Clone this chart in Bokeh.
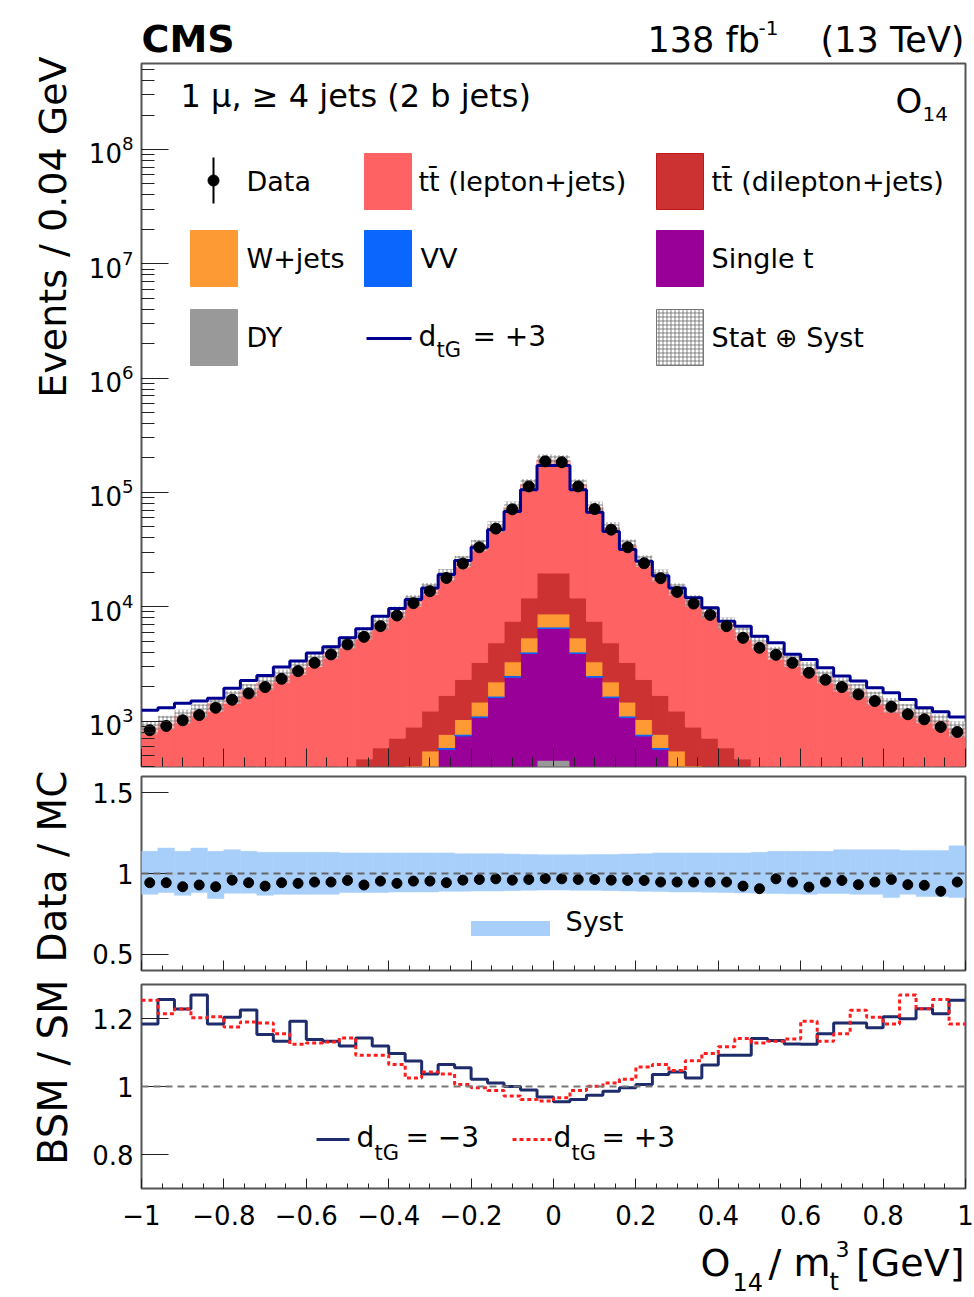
import numpy as np
from math import pi, log10
from bokeh.plotting import figure
from bokeh.layouts import column, row
from bokeh.models import (Range1d, Label, FixedTicker, LogTicker,
                          CustomJSTickFormatter, Span)
from bokeh.embed import file_html
from bokeh.resources import INLINE

# ---------------- binning and values ----------------
bin_edges = np.linspace(-1.0, 1.0, 51)   # 50 bins of 0.04

data_events = [830, 905, 1015, 1128, 1307, 1535, 1745, 1983, 2341, 2734,
               3229, 3826, 4677, 5448, 6757, 8377, 10730, 13660, 17850, 23850,
               33100, 48200, 71100, 112800, 186800,
               183600, 112800, 71500, 47200, 33100, 24000, 17750, 13460, 10660, 8480,
               6757, 5340, 4370, 3795, 3229, 2644, 2296, 1983, 1710, 1496,
               1334, 1146, 1035, 887, 802]

data_over_mc = [0.943, 0.943, 0.918, 0.929, 0.918, 0.959, 0.943, 0.922, 0.943, 0.939,
                0.947, 0.947, 0.957, 0.929, 0.953, 0.939, 0.953, 0.953, 0.943, 0.959,
                0.963, 0.967, 0.959, 0.963, 0.969,
                0.967, 0.963, 0.963, 0.959, 0.957, 0.957, 0.947, 0.947, 0.947, 0.947,
                0.947, 0.922, 0.906, 0.967, 0.947, 0.916, 0.947, 0.957, 0.931, 0.947,
                0.963, 0.931, 0.927, 0.890, 0.947]

syst_up = [1.137, 1.157, 1.137, 1.157, 1.137, 1.147, 1.137, 1.131, 1.131, 1.131,
           1.131, 1.131, 1.127, 1.127, 1.127, 1.127, 1.127, 1.127, 1.127, 1.122,
           1.122, 1.122, 1.120, 1.118, 1.116,
           1.116, 1.116, 1.118, 1.118, 1.120, 1.122, 1.127, 1.127, 1.127, 1.127,
           1.127, 1.127, 1.131, 1.137, 1.137, 1.137, 1.137, 1.147, 1.147, 1.147,
           1.147, 1.143, 1.143, 1.143, 1.171]

syst_down = [0.871, 0.882, 0.865, 0.882, 0.845, 0.878, 0.878, 0.865, 0.871, 0.871,
             0.871, 0.871, 0.882, 0.882, 0.882, 0.886, 0.886, 0.886, 0.890, 0.890,
             0.892, 0.892, 0.894, 0.896, 0.898,
             0.898, 0.896, 0.896, 0.894, 0.892, 0.890, 0.888, 0.886, 0.886, 0.884,
             0.882, 0.880, 0.878, 0.876, 0.874, 0.871, 0.876, 0.876, 0.871, 0.871,
             0.851, 0.871, 0.857, 0.857, 0.851]

dy_events = [1, 1, 1, 1, 1, 1, 2, 2, 2, 2, 3, 3, 4, 5, 7, 10, 14, 20, 30, 45,
             70, 110, 170, 280, 454,
             454, 280, 170, 110, 70, 45, 30, 20, 14, 10, 7, 5, 4, 3, 3,
             2, 2, 2, 2, 1, 1, 1, 1, 1, 1]

single_top_events = [2, 2, 3, 3, 4, 5, 7, 9, 12, 16, 22, 32, 46, 70, 103, 160, 236, 360,
                     536, 695, 1000, 1490, 2250, 3620, 6000,
                     6000, 3620, 2250, 1490, 1000, 695, 536, 360, 236, 160, 103, 70, 46,
                     32, 22, 16, 12, 9, 7, 5, 4, 3, 3, 2, 2]

vv_events = [1, 1, 1, 1, 1, 1, 1, 1, 1, 1, 2, 2, 2, 3, 3, 4, 5, 7, 9, 11,
             15, 20, 28, 40, 60,
             60, 40, 28, 20, 15, 11, 9, 7, 5, 4, 3, 3, 2, 2, 2,
             1, 1, 1, 1, 1, 1, 1, 1, 1, 1]

wjets_events = [11, 12, 13, 15, 17, 19, 22, 26, 30, 36, 42, 50, 60, 75, 95, 120, 150,
                160, 190, 280, 380, 580, 850, 1400, 2130,
                2130, 1400, 850, 580, 380, 280, 190, 160, 150, 120, 95, 75, 60, 50,
                42, 36, 30, 26, 22, 19, 17, 15, 13, 12, 11]

tt_dilepton_events = [55, 60, 65, 72, 80, 90, 100, 115, 130, 150, 175, 210, 255, 313,
                      375, 414, 480, 675, 910, 1275, 1785, 2630, 4170, 6590, 11070,
                      11070, 6590, 4170, 2630, 1785, 1275, 910, 675, 480, 414, 375,
                      313, 255, 210, 175, 150, 130, 115, 100, 90, 80, 72, 65, 60, 55]

bsm_plus3_events = [1240, 1307, 1427, 1496, 1579, 1930, 2265, 2504, 2963, 3343,
                    3926, 4457, 5340, 6400, 8260, 9640, 11550, 14600, 19100, 25300,
                    33100, 47200, 68200, 105700, 172200,
                    172200, 105700, 66900, 45600, 31650, 24950, 18700, 14600, 11950, 9770,
                    7465, 6760, 5520, 4830, 3830, 3460, 2925, 2472, 2234, 1954,
                    1766, 1546, 1307, 1206, 1083]

bsm_sm_minus3 = [1.184, 1.256, 1.228, 1.269, 1.184, 1.204, 1.225, 1.153, 1.133, 1.192,
                 1.138, 1.133, 1.119, 1.143, 1.119, 1.097, 1.075, 1.037, 1.065, 1.055,
                 1.021, 1.010, 1.000, 0.990, 0.969,
                 0.955, 0.962, 0.974, 0.986, 0.996, 1.006, 1.035, 1.043, 1.025, 1.063,
                 1.092, 1.092, 1.141, 1.135, 1.125, 1.124, 1.155, 1.187, 1.187, 1.173,
                 1.205, 1.199, 1.229, 1.214, 1.254]

bsm_sm_plus3 = [1.254, 1.214, 1.228, 1.202, 1.205, 1.175, 1.190, 1.187, 1.155, 1.124,
                1.128, 1.131, 1.143, 1.092, 1.092, 1.065, 1.025, 1.043, 1.037, 1.006,
                0.996, 0.988, 0.972, 0.962, 0.957,
                0.967, 0.988, 1.001, 1.010, 1.021, 1.057, 1.065, 1.047, 1.076, 1.097,
                1.117, 1.141, 1.128, 1.133, 1.140, 1.192, 1.133, 1.155, 1.224, 1.204,
                1.184, 1.269, 1.229, 1.256, 1.184]

x_major_ticks = [-1, -0.8, -0.6, -0.4, -0.2, 0, 0.2, 0.4, 0.6, 0.8, 1]
ratio_ticks = [0.5, 1, 1.5]
bsm_ticks = [0.8, 1, 1.2]

# ---------------- derived quantities ----------------
left, right = bin_edges[:-1], bin_edges[1:]
centers = 0.5 * (left + right)
data = np.array(data_events, float)
ratio = np.array(data_over_mc)
mc_total = data / ratio
dy = np.array(dy_events, float)
st = np.array(single_top_events, float)
vv = np.array(vv_events, float)
wj = np.array(wjets_events, float)
dil = np.array(tt_dilepton_events, float)
tt_lj = mc_total - (dy + st + vv + wj + dil)

c_dy = dy
c_st = c_dy + st
c_vv = c_st + vv
c_wj = c_vv + wj
c_dil = c_wj + dil
c_lj = c_dil + tt_lj


def step_xy(vals):
    xs = np.repeat(bin_edges, 2)[1:-1]
    ys = np.repeat(np.asarray(vals, float), 2)
    return xs, ys


# ---------------- page geometry (canvas pixels) ----------------
W, H = 974, 1297
LEFT_W = 80            # strip holding the rotated axis titles
FL, FR = 141, 965      # frame edges of every panel
HEAD_H = 62
P1_TOP, P1_FRAME = 63, 703         # main panel frame: 63..766
P2_TOP, P2_FRAME = 776, 194        # ratio frame: 776..970
P3_TOP, P3_FRAME = 984, 204        # BSM/SM frame: 984..1188
ROW1 = HEAD_H
ROW2 = 771
ROW3 = 977
ROW4 = 1235
P1_H, P2_H, P3_H = ROW2 - ROW1, ROW3 - ROW2, ROW4 - ROW3
FOOT_H = H - ROW4

Y_LO = 400.0
L_LO = log10(Y_LO)
L_HI = L_LO + P1_FRAME / 114.31     # keeps ~114 px per decade
Y_HI = 10 ** L_HI


def px(xp):
    return -1.0 + (xp - FL) / (FR - FL) * 2.0


def top_y(yp):
    return 10 ** (L_HI - (yp - P1_TOP) / P1_FRAME * (L_HI - L_LO))


def mid_y(yp):
    return 1.6 - (yp - P2_TOP) / P2_FRAME * 1.2


def bot_y(yp):
    return 1.3 - (yp - P3_TOP) / P3_FRAME * 0.6


FONT = "DejaVu Sans"
TICK_PX = "26px"

C_LJ = "#fe6262"
C_DIL = "#cc3232"
C_W = "#fd9a33"
C_VV = "#0a66fd"
C_ST = "#980098"
C_DY = "#999999"
C_BSM = "#000090"
C_SYST = "#a8cffa"
C_NAVY = "#1e2c6c"
C_REDDOT = "#ff1c1c"


def add_label(fig, x, y, text, size, align="left", angle=0.0, bold=False):
    """Text centred vertically on y (page-pixel or data coordinates)."""
    fig.add_layout(Label(x=x, y=y, text=text, text_font=FONT,
                         text_font_size=f"{size}px", text_align=align,
                         text_baseline="middle", angle=angle,
                         text_font_style="bold" if bold else "normal",
                         text_color="black"))


def mid(baseline, size):
    """Page y of the text middle for a given baseline and font size."""
    return baseline - 0.35 * size


def text_canvas(width, x0, x1, y0, h, border_left=0, border_right=0):
    """Blank figure whose frame spans page x0..x1 and page y0..y0+h."""
    f = figure(width=width, height=h, x_range=Range1d(x0, x1),
               y_range=Range1d(y0 + h, y0), output_backend="svg",
               toolbar_location=None, title=None, x_axis_location=None,
               y_axis_location=None, min_border=0,
               min_border_left=border_left, min_border_right=border_right)
    f.outline_line_color = None
    f.grid.visible = False
    f.background_fill_color = "white"
    f.border_fill_color = "white"
    return f


x_minor = [round(-1 + 0.05 * k, 2) for k in range(41) if k % 4]
blank = CustomJSTickFormatter(code="return '';")


def style_common(fig):
    fig.outline_line_color = "#555555"
    fig.outline_line_width = 2
    fig.background_fill_color = "white"
    fig.border_fill_color = "white"
    fig.xgrid.visible = False
    fig.ygrid.visible = False
    for ax in fig.axis:
        ax.axis_line_color = None
        ax.major_tick_out = 0
        ax.minor_tick_out = 0
        ax.major_tick_line_color = "#222222"
        ax.minor_tick_line_color = "#222222"
        ax.major_label_text_font = FONT
        ax.major_label_text_font_size = TICK_PX
        ax.major_label_text_color = "black"


def make_fig(row_top, row_h, frame_top, frame_h, y_range, log=False):
    top = frame_top - row_top
    kw = dict(width=W - LEFT_W, height=row_h, x_range=Range1d(-1, 1), y_range=y_range,
              output_backend="svg", toolbar_location=None, title=None,
              min_border_left=FL - LEFT_W, min_border_right=W - FR,
              min_border_top=top, min_border_bottom=row_h - top - frame_h)
    if log:
        kw["y_axis_type"] = "log"
    return figure(**kw)


# ================= header =================
head = text_canvas(W - LEFT_W, FL, FR, 0, HEAD_H, FL - LEFT_W, W - FR)
add_label(head, 141, mid(52, 38), "CMS", 38, bold=True)
add_label(head, 647, mid(52, 35), "138 fb", 35)
add_label(head, 758, mid(34, 20), "-1", 20)
add_label(head, 964, mid(52, 35), "(13 TeV)", 35, align="right")

# ================= main distribution =================
p1 = make_fig(ROW1, P1_H, P1_TOP, P1_FRAME, Range1d(Y_LO, Y_HI), log=True)
style_common(p1)
p1.yaxis.ticker = LogTicker(num_minor_ticks=10)
p1.yaxis.major_tick_in = 27
p1.yaxis.minor_tick_in = 13
p1.yaxis.major_label_standoff = 8
p1.xaxis.ticker = FixedTicker(ticks=x_major_ticks, minor_ticks=x_minor)
p1.xaxis.major_tick_in = 18
p1.xaxis.minor_tick_in = 9
p1.xaxis.formatter = blank
p1.xaxis.major_label_standoff = 0

floor = np.full(50, 1.0)
stack = [(floor, c_dy, C_DY), (c_dy, c_st, C_ST), (c_vv, c_wj, C_W),
         (c_wj, c_dil, C_DIL), (c_dil, c_lj, C_LJ)]
for lo, hi, col in stack:
    p1.quad(left=left, right=right, bottom=np.maximum(lo, 1.0), top=hi,
            fill_color=col, line_color=col, line_width=1)
# diboson slice drawn as a thin layer on top of single top
p1.quad(left=left, right=right, bottom=np.maximum(c_st, 1.0), top=c_vv,
        fill_color=C_VV, line_color=C_VV, line_width=1)

# total uncertainty boxes around the prediction
p1.quad(left=left, right=right, bottom=mc_total * np.array(syst_down),
        top=mc_total * np.array(syst_up), fill_color="white", fill_alpha=0.55,
        hatch_pattern="+", hatch_color="#555555", hatch_scale=4, hatch_weight=0.7,
        line_color=None)

bx, by = step_xy(bsm_plus3_events)
p1.line(bx, by, line_color=C_BSM, line_width=3)

err = np.sqrt(data)
p1.segment(x0=centers, y0=data - err, x1=centers, y1=data + err, line_color="black",
           line_width=1.5)
p1.scatter(centers, data, size=11, color="black")

add_label(p1, px(180), top_y(mid(107, 32)), "1 \u03bc, \u2265 4 jets (2 b jets)", 32)
add_label(p1, px(895), top_y(mid(112, 34)), "O", 34)
add_label(p1, px(922), top_y(mid(120, 20)), "14", 20)

# legend (3 x 3)
rows = [181, 258, 337]
cols_box = [(190, 237), (364, 411), (656, 703)]


def leg_box(col, row_i, color, **kw):
    x0, x1 = cols_box[col]
    yc = rows[row_i]
    p1.quad(left=px(x0), right=px(x1), bottom=top_y(yc + 28), top=top_y(yc - 28),
            fill_color=color, **kw)


leg_box(1, 0, C_LJ, line_color=C_LJ)
leg_box(2, 0, C_DIL, line_color="#c01818")
leg_box(0, 1, C_W, line_color=C_W)
leg_box(1, 1, C_VV, line_color=C_VV)
leg_box(2, 1, C_ST, line_color=C_ST)
leg_box(0, 2, C_DY, line_color=C_DY)
leg_box(2, 2, "white", line_color="#777777", hatch_pattern="+", hatch_color="#555555",
        hatch_scale=4, hatch_weight=0.7)

p1.segment(x0=[px(213)], y0=[top_y(157)], x1=[px(213)], y1=[top_y(203)],
           line_color="black", line_width=2)
p1.scatter([px(213)], [top_y(180)], size=11, color="black")
p1.segment(x0=[px(366)], y0=[top_y(338)], x1=[px(411)], y1=[top_y(338)],
           line_color=C_BSM, line_width=3)

add_label(p1, px(246), top_y(rows[0]), "Data", 27)
add_label(p1, px(418), top_y(rows[0]), "tt\u0304 (lepton+jets)", 27)
add_label(p1, px(711), top_y(rows[0]), "tt\u0304 (dilepton+jets)", 27)
add_label(p1, px(246), top_y(rows[1]), "W+jets", 27)
add_label(p1, px(420), top_y(rows[1]), "VV", 27)
add_label(p1, px(711), top_y(rows[1]), "Single t", 27)
add_label(p1, px(246), top_y(rows[2]), "DY", 27)
add_label(p1, px(418), top_y(mid(346, 28)), "d", 28)
add_label(p1, px(436), top_y(mid(357, 21)), "tG", 21)
add_label(p1, px(472), top_y(mid(346, 28)), "= +3", 28)
add_label(p1, px(711), top_y(rows[2]), "Stat \u2295 Syst", 27)

# ================= data / MC ratio =================
p2 = make_fig(ROW2, P2_H, P2_TOP, P2_FRAME, Range1d(0.4, 1.6))
style_common(p2)
p2.yaxis.ticker = FixedTicker(ticks=ratio_ticks, minor_ticks=[])
p2.yaxis.formatter = CustomJSTickFormatter(code="return String(tick);")
p2.yaxis.major_tick_in = 27
p2.yaxis.major_label_standoff = 8
p2.xaxis.ticker = FixedTicker(ticks=x_major_ticks, minor_ticks=x_minor)
p2.xaxis.major_tick_in = 10
p2.xaxis.minor_tick_in = 5
p2.xaxis.formatter = blank
p2.xaxis.major_label_standoff = 0

p2.quad(left=left, right=right, bottom=syst_down, top=syst_up,
        fill_color=C_SYST, line_color=C_SYST, line_width=0.5)
p2.add_layout(Span(location=1.0, dimension="width", line_color="#666666",
                   line_dash="7 5", line_width=2))
p2.scatter(centers, ratio, size=10, color="black")

p2.quad(left=[px(471)], right=[px(549)], bottom=[mid_y(935)], top=[mid_y(921)],
        fill_color=C_SYST, line_color=C_SYST)
add_label(p2, px(565), mid_y(921), "Syst", 27)

# ================= BSM / SM =================
p3 = make_fig(ROW3, P3_H, P3_TOP, P3_FRAME, Range1d(0.7, 1.3))
style_common(p3)
p3.yaxis.ticker = FixedTicker(ticks=bsm_ticks, minor_ticks=[])
p3.yaxis.formatter = CustomJSTickFormatter(code="return String(tick);")
p3.yaxis.major_tick_in = 27
p3.yaxis.major_label_standoff = 8
p3.xaxis.ticker = FixedTicker(ticks=x_major_ticks, minor_ticks=x_minor)
p3.xaxis.major_tick_in = 10
p3.xaxis.minor_tick_in = 5
p3.xaxis.major_label_standoff = 16
p3.xaxis.formatter = CustomJSTickFormatter(code="""
    const v = Math.round(tick * 10) / 10;
    if (Math.abs(v) < 1e-9) { return "0"; }
    return String(v).replace("-", "\\u2212");
""")

p3.add_layout(Span(location=1.0, dimension="width", line_color="#777777",
                   line_dash="7 5", line_width=2))
mx, my = step_xy(bsm_sm_minus3)
p3.line(mx, my, line_color=C_NAVY, line_width=3)
rx, ry = step_xy(bsm_sm_plus3)
p3.line(rx, ry, line_color=C_REDDOT, line_width=3, line_dash="4 3")

p3.segment(x0=[px(316)], y0=[bot_y(1139)], x1=[px(349)], y1=[bot_y(1139)],
           line_color=C_NAVY, line_width=3)
add_label(p3, px(356), bot_y(mid(1147, 28)), "d", 28)
add_label(p3, px(374), bot_y(mid(1160, 21)), "tG", 21)
add_label(p3, px(405), bot_y(mid(1147, 28)), "= \u22123", 28)
p3.segment(x0=[px(512)], y0=[bot_y(1139)], x1=[px(551)], y1=[bot_y(1139)],
           line_color=C_REDDOT, line_width=3, line_dash="4 3")
add_label(p3, px(553), bot_y(mid(1147, 28)), "d", 28)
add_label(p3, px(571), bot_y(mid(1160, 21)), "tG", 21)
add_label(p3, px(601), bot_y(mid(1147, 28)), "= +3", 28)

# ================= x-axis title: O_14 / m_t^3 [GeV] =================
foot = text_canvas(W - LEFT_W, FL, FR, ROW4, FOOT_H, FL - LEFT_W, W - FR)
add_label(foot, 700, mid(1276, 38), "O", 38)
add_label(foot, 732, mid(1290, 24), "14", 24)
add_label(foot, 768, mid(1276, 38), "/ m", 38)
add_label(foot, 829, mid(1290, 24), "t", 24)
add_label(foot, 835, mid(1256, 22), "3", 22)
add_label(foot, 964, mid(1276, 38), "[GeV]", 38, align="right")

# ================= rotated y-axis titles =================
strip = text_canvas(LEFT_W, 0, LEFT_W, 0, H)
add_label(strip, 52, 56, "Events / 0.04 GeV", 38, align="right", angle=pi / 2)
add_label(strip, 52, 770, "Data / MC", 39, align="right", angle=pi / 2)
add_label(strip, 52, 979, "BSM / SM", 40, align="right", angle=pi / 2)

panels = column(head, p1, p2, p3, foot, spacing=0)
layout = row(strip, panels, spacing=0)
open("out.html", "w").write(file_html(layout, INLINE))
